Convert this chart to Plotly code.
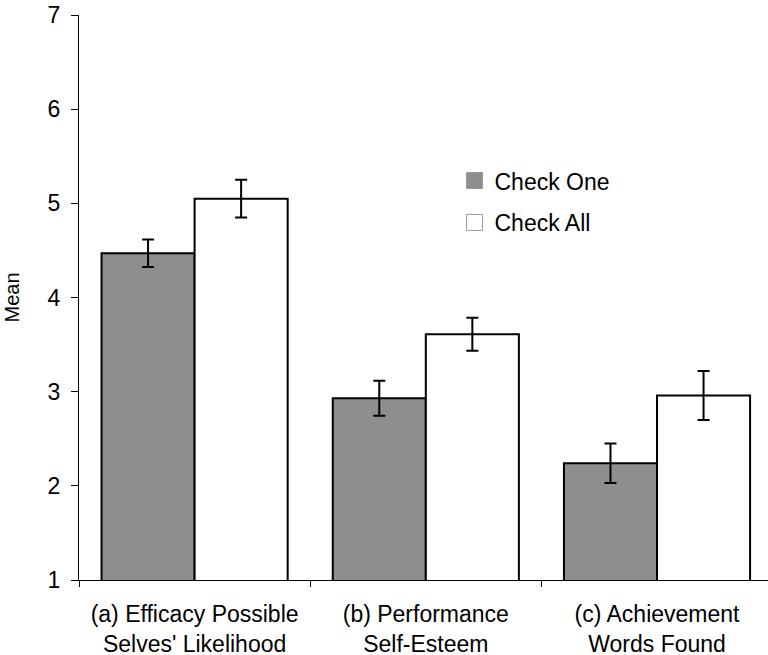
import plotly.graph_objects as go

categories = ["(a) Efficacy Possible<br>Selves' Likelihood",
              "(b) Performance<br>Self-Esteem",
              "(c) Achievement<br>Words Found"]
check_one = [4.47, 2.93, 2.24]
check_one_err = [0.145, 0.185, 0.21]
check_all = [5.05, 3.61, 2.96]
check_all_err = [0.20, 0.175, 0.26]
y_ticks = [1, 2, 3, 4, 5, 6, 7]
series_names = ["Check One", "Check All"]
series_colors = ["#8e8e8e", "white"]

font_family = "Arial, Liberation Sans, Helvetica, sans-serif"

fig = go.Figure()
for name, vals, errs, col in zip(series_names, [check_one, check_all],
                                 [check_one_err, check_all_err], series_colors):
    fig.add_trace(go.Bar(
        x=categories, y=vals, name=name, showlegend=False,
        marker=dict(color=col, line=dict(color="black", width=2)),
        error_y=dict(type="data", array=errs, color="black", thickness=2, width=6),
    ))

# legend entries (larger, thin-bordered squares as in the reference)
for i, (name, col) in enumerate(zip(series_names, series_colors)):
    fig.add_trace(go.Scatter(
        x=[None], y=[None], mode="markers", name=name, legendgroup=f"g{i}",
        marker=dict(symbol="square", size=16, color=col,
                    line=dict(color="#9a9a9a", width=1)),
    ))

fig.update_layout(
    width=768, height=655,
    margin=dict(l=79, r=0, t=15, b=75),
    paper_bgcolor="white", plot_bgcolor="white",
    barmode="group", bargap=0.195, bargroupgap=0,
    font=dict(family=font_family, size=22, color="black"),
    legend=dict(x=0.545, y=0.745, xanchor="left", yanchor="top",
                font=dict(size=23), tracegroupgap=9, bgcolor="rgba(0,0,0,0)"),
    showlegend=True,
)
fig.update_xaxes(
    range=[-0.5, 2.48],
    showline=True, linecolor="black", linewidth=1,
    ticks="outside", tickson="boundaries", ticklen=6, tickcolor="black",
    tickfont=dict(size=23), showgrid=False, automargin=False,
    ticklabelstandoff=13,
)
fig.update_yaxes(
    range=[1, 7], tickvals=y_ticks, showline=True, linecolor="black", linewidth=1,
    ticks="outside", ticklen=7, tickcolor="black", showgrid=False, zeroline=False,
    tickfont=dict(size=23), automargin=False, ticklabelstandoff=6,
    title=dict(text="Mean", font=dict(size=20), standoff=22),
)

fig.write_html("out.html", post_script="document.body.style.margin='0';",
               config={"displayModeBar": False})
